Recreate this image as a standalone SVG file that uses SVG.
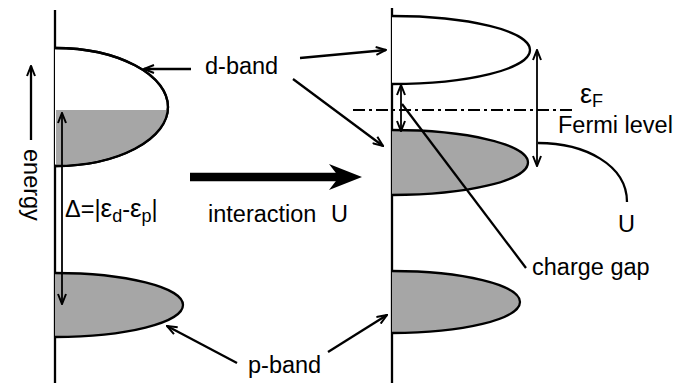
<svg xmlns="http://www.w3.org/2000/svg" width="675" height="383" viewBox="0 0 675 383">
<style>
.ln{stroke:#000;stroke-width:2.3;fill:none}
.th{stroke:#000;stroke-width:1.8;fill:none}
.band{stroke:#000;stroke-width:2.3;fill:#fff}
.fill{fill:#a6a6a6;stroke:none}
.gray{stroke:#000;stroke-width:2.3;fill:#a6a6a6}
text{font-family:"Liberation Sans",Arial,Helvetica,sans-serif;font-size:23.5px;fill:#000}
</style>
<defs>
<marker id="ah" viewBox="0 0 12 10" refX="11" refY="5" markerWidth="12" markerHeight="10" markerUnits="userSpaceOnUse" orient="auto-start-reverse">
<path d="M1,1 L11,5 L1,9" fill="none" stroke="#000" stroke-width="2"/>
</marker>
</defs>
<rect width="675" height="383" fill="#fff"/>

<g id="left-axis"><line class="ln" x1="55" y1="10" x2="55" y2="383"/></g>
<g id="right-axis"><line class="ln" x1="392" y1="8" x2="392" y2="383"/></g>

<g id="left-d-band">
<path class="band" d="M55,48 A113,59 0 0 1 55,166"/>
<path class="fill" d="M56,110 L167.8,110 A113,59 0 0 1 56,165 Z"/>
<path class="ln" d="M55,48 A113,59 0 0 1 55,166"/>
</g>
<g id="left-p-band"><path class="gray" d="M55,273 A128,32 0 0 1 55,337"/></g>
<g id="right-upper-band"><path class="band" d="M392,16 A138,34 0 0 1 392,84"/></g>
<g id="right-lower-band"><path class="gray" d="M392,130 A136,32.5 0 0 1 392,195"/></g>
<g id="right-p-band"><path class="gray" d="M392,271 A128,31 0 0 1 392,333"/></g>

<g id="connectors">
<line class="ln" x1="191" y1="69" x2="144" y2="69" marker-end="url(#ah)"/>
<line class="ln" x1="300" y1="58" x2="386" y2="50" marker-end="url(#ah)"/>
<line class="ln" x1="293" y1="79" x2="383" y2="146" marker-end="url(#ah)"/>
<line class="ln" x1="237" y1="363" x2="167" y2="326" marker-end="url(#ah)"/>
<line class="ln" x1="328" y1="352" x2="387" y2="315" marker-end="url(#ah)"/>
<line class="ln" x1="31" y1="140" x2="31" y2="66" marker-end="url(#ah)"/>
<line class="th" x1="62" y1="113" x2="62" y2="304" marker-start="url(#ah)" marker-end="url(#ah)"/>
<line class="th" x1="401" y1="85" x2="401" y2="131" marker-start="url(#ah)" marker-end="url(#ah)"/>
<line class="th" x1="537" y1="50" x2="537" y2="166" marker-start="url(#ah)" marker-end="url(#ah)"/>
<line x1="353" y1="110" x2="573" y2="110" stroke="#000" stroke-width="1.8" stroke-dasharray="12,4,3,4"/>
<line class="ln" x1="402" y1="104" x2="526" y2="268"/>
<path class="ln" d="M538,143 C585,143 627,165 627,202"/>
<line x1="190" y1="177" x2="340" y2="177" stroke="#000" stroke-width="8.5"/>
<path d="M362,177 L329,164 L339,177 L329,190 Z" fill="#000"/>
</g>

<g id="labels">
<text x="205" y="74">d-band</text>
<text x="248" y="373">p-band</text>
<text transform="translate(24,149) rotate(90)">energy</text>
<text x="208" y="222" font-size="21.5">interaction</text>
<text x="331" y="222" font-size="22">U</text>
<text x="65" y="217">Δ=|<tspan font-size="26">ε</tspan><tspan font-size="18" dy="5">d</tspan><tspan dy="-5">-</tspan><tspan font-size="26">ε</tspan><tspan font-size="18" dy="5">p</tspan><tspan dy="-5">|</tspan></text>
<text x="580" y="103"><tspan font-size="27">ε</tspan><tspan font-size="18" dy="4">F</tspan></text>
<text x="558" y="133">Fermi level</text>
<text x="618" y="232">U</text>
<text x="532" y="275">charge gap</text>
</g>
</svg>
